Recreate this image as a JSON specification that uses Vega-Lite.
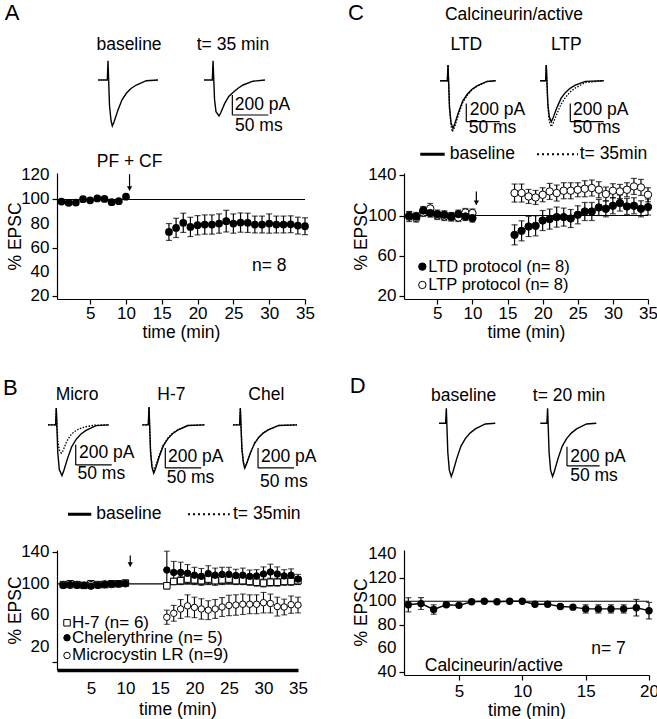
{
"$schema": "https://vega.github.io/schema/vega-lite/v6.json",
"background": "white",
"padding": {"left": 2, "top": 0, "right": 10, "bottom": 0},
"config": {
 "font": "Liberation Sans",
 "view": {"stroke": null},
 "axis": {"domainColor": "black", "tickColor": "black", "labelColor": "black", "titleColor": "black", "labelFontSize": 17, "titleFontSize": 17.5, "titleFontWeight": "normal", "domainWidth": 1.2, "tickWidth": 1.2, "grid": false, "labelFont": "Liberation Sans", "titleFont": "Liberation Sans", "labelOverlap": false, "labelFlush": false},
 "text": {"font": "Liberation Sans", "color": "black"}
},
"columns": 2,
"align": "each",
"bounds": "flush",
"spacing": {"row": 0, "column": 99},
"datasets": {
 "traces": [
  {"p":"A","id":"A1","cond":"baseline","k":0,"x":56.9,"y":0},{"p":"A","id":"A1","cond":"baseline","k":1,"x":69.9,"y":0},{"p":"A","id":"A1","cond":"baseline","k":2,"x":70.8,"y":193},{"p":"A","id":"A1","cond":"baseline","k":3,"x":72.9,"y":-253},{"p":"A","id":"A1","cond":"baseline","k":4,"x":75,"y":-405},{"p":"A","id":"A1","cond":"baseline","k":5,"x":76.8,"y":-460},{"p":"A","id":"A1","cond":"baseline","k":6,"x":79.2,"y":-419},{"p":"A","id":"A1","cond":"baseline","k":7,"x":84.7,"y":-299},{"p":"A","id":"A1","cond":"baseline","k":8,"x":90.3,"y":-198},{"p":"A","id":"A1","cond":"baseline","k":9,"x":96.3,"y":-133},{"p":"A","id":"A1","cond":"baseline","k":10,"x":102.8,"y":-85},{"p":"A","id":"A1","cond":"baseline","k":11,"x":110.1,"y":-50},{"p":"A","id":"A1","cond":"baseline","k":12,"x":124,"y":-7},{"p":"A","id":"A1","cond":"baseline","k":13,"x":140.3,"y":0},
  {"p":"A","id":"A2","cond":"late","k":0,"x":204.2,"y":0},{"p":"A","id":"A2","cond":"late","k":1,"x":215.7,"y":0},{"p":"A","id":"A2","cond":"late","k":2,"x":216.7,"y":193},{"p":"A","id":"A2","cond":"late","k":3,"x":218.8,"y":-198},{"p":"A","id":"A2","cond":"late","k":4,"x":220.8,"y":-317},{"p":"A","id":"A2","cond":"late","k":5,"x":225,"y":-360},{"p":"A","id":"A2","cond":"late","k":6,"x":227.4,"y":-328},{"p":"A","id":"A2","cond":"late","k":7,"x":232.9,"y":-234},{"p":"A","id":"A2","cond":"late","k":8,"x":238.5,"y":-165},{"p":"A","id":"A2","cond":"late","k":9,"x":244.4,"y":-125},{"p":"A","id":"A2","cond":"late","k":10,"x":251,"y":-85},{"p":"A","id":"A2","cond":"late","k":11,"x":258.3,"y":-50},{"p":"A","id":"A2","cond":"late","k":12,"x":272.2,"y":-12},{"p":"A","id":"A2","cond":"late","k":13,"x":288.9,"y":0},
  {"p":"B","id":"B1","cond":"baseline","k":0,"x":-12.5,"y":0},{"p":"B","id":"B1","cond":"baseline","k":1,"x":-1.9,"y":0},{"p":"B","id":"B1","cond":"baseline","k":2,"x":-1,"y":167},{"p":"B","id":"B1","cond":"baseline","k":3,"x":1.1,"y":-279},{"p":"B","id":"B1","cond":"baseline","k":4,"x":3.2,"y":-446},{"p":"B","id":"B1","cond":"baseline","k":5,"x":6.9,"y":-507},{"p":"B","id":"B1","cond":"baseline","k":6,"x":9.3,"y":-461},{"p":"B","id":"B1","cond":"baseline","k":7,"x":14.9,"y":-330},{"p":"B","id":"B1","cond":"baseline","k":8,"x":20.4,"y":-218},{"p":"B","id":"B1","cond":"baseline","k":9,"x":26.4,"y":-147},{"p":"B","id":"B1","cond":"baseline","k":10,"x":32.9,"y":-94},{"p":"B","id":"B1","cond":"baseline","k":11,"x":40.3,"y":-55},{"p":"B","id":"B1","cond":"baseline","k":12,"x":54.2,"y":-8},{"p":"B","id":"B1","cond":"baseline","k":13,"x":72.2,"y":0},
  {"p":"B","id":"B2","cond":"late","k":0,"x":-12.5,"y":0},{"p":"B","id":"B2","cond":"late","k":1,"x":-1.9,"y":0},{"p":"B","id":"B2","cond":"late","k":2,"x":-1,"y":167},{"p":"B","id":"B2","cond":"late","k":3,"x":1.1,"y":-160},{"p":"B","id":"B2","cond":"late","k":4,"x":3.2,"y":-250},{"p":"B","id":"B2","cond":"late","k":5,"x":6,"y":-283},{"p":"B","id":"B2","cond":"late","k":6,"x":8.3,"y":-260},{"p":"B","id":"B2","cond":"late","k":7,"x":13.2,"y":-170},{"p":"B","id":"B2","cond":"late","k":8,"x":18.1,"y":-110},{"p":"B","id":"B2","cond":"late","k":9,"x":23.6,"y":-70},{"p":"B","id":"B2","cond":"late","k":10,"x":30.6,"y":-40},{"p":"B","id":"B2","cond":"late","k":11,"x":38.9,"y":-20},{"p":"B","id":"B2","cond":"late","k":12,"x":52.8,"y":-3},{"p":"B","id":"B2","cond":"late","k":13,"x":72.2,"y":0},
  {"p":"B","id":"B3","cond":"baseline","k":0,"x":118.5,"y":0},{"p":"B","id":"B3","cond":"baseline","k":1,"x":126.8,"y":0},{"p":"B","id":"B3","cond":"baseline","k":2,"x":127.8,"y":177},{"p":"B","id":"B3","cond":"baseline","k":3,"x":129.9,"y":-266},{"p":"B","id":"B3","cond":"baseline","k":4,"x":131.9,"y":-425},{"p":"B","id":"B3","cond":"baseline","k":5,"x":134.3,"y":-483},{"p":"B","id":"B3","cond":"baseline","k":6,"x":136.7,"y":-440},{"p":"B","id":"B3","cond":"baseline","k":7,"x":142.2,"y":-314},{"p":"B","id":"B3","cond":"baseline","k":8,"x":147.8,"y":-208},{"p":"B","id":"B3","cond":"baseline","k":9,"x":153.8,"y":-140},{"p":"B","id":"B3","cond":"baseline","k":10,"x":160.3,"y":-89},{"p":"B","id":"B3","cond":"baseline","k":11,"x":167.6,"y":-53},{"p":"B","id":"B3","cond":"baseline","k":12,"x":181.5,"y":-7},{"p":"B","id":"B3","cond":"baseline","k":13,"x":205.1,"y":0},
  {"p":"B","id":"B4","cond":"late","k":0,"x":118.5,"y":0},{"p":"B","id":"B4","cond":"late","k":1,"x":126.8,"y":0},{"p":"B","id":"B4","cond":"late","k":2,"x":127.8,"y":177},{"p":"B","id":"B4","cond":"late","k":3,"x":129.9,"y":-253},{"p":"B","id":"B4","cond":"late","k":4,"x":131.9,"y":-404},{"p":"B","id":"B4","cond":"late","k":5,"x":134.3,"y":-459},{"p":"B","id":"B4","cond":"late","k":6,"x":136.7,"y":-418},{"p":"B","id":"B4","cond":"late","k":7,"x":142.2,"y":-298},{"p":"B","id":"B4","cond":"late","k":8,"x":147.8,"y":-198},{"p":"B","id":"B4","cond":"late","k":9,"x":153.8,"y":-133},{"p":"B","id":"B4","cond":"late","k":10,"x":160.3,"y":-85},{"p":"B","id":"B4","cond":"late","k":11,"x":167.6,"y":-50},{"p":"B","id":"B4","cond":"late","k":12,"x":181.5,"y":-7},{"p":"B","id":"B4","cond":"late","k":13,"x":205.1,"y":0},
  {"p":"B","id":"B5","cond":"baseline","k":0,"x":244.4,"y":0},{"p":"B","id":"B5","cond":"baseline","k":1,"x":253.6,"y":0},{"p":"B","id":"B5","cond":"baseline","k":2,"x":254.6,"y":167},{"p":"B","id":"B5","cond":"baseline","k":3,"x":256.7,"y":-238},{"p":"B","id":"B5","cond":"baseline","k":4,"x":258.8,"y":-381},{"p":"B","id":"B5","cond":"baseline","k":5,"x":260.7,"y":-433},{"p":"B","id":"B5","cond":"baseline","k":6,"x":263.1,"y":-394},{"p":"B","id":"B5","cond":"baseline","k":7,"x":268.6,"y":-281},{"p":"B","id":"B5","cond":"baseline","k":8,"x":274.2,"y":-186},{"p":"B","id":"B5","cond":"baseline","k":9,"x":280.1,"y":-126},{"p":"B","id":"B5","cond":"baseline","k":10,"x":286.7,"y":-80},{"p":"B","id":"B5","cond":"baseline","k":11,"x":294,"y":-47},{"p":"B","id":"B5","cond":"baseline","k":12,"x":307.9,"y":-6},{"p":"B","id":"B5","cond":"baseline","k":13,"x":333.3,"y":0},
  {"p":"B","id":"B6","cond":"late","k":0,"x":244.4,"y":0},{"p":"B","id":"B6","cond":"late","k":1,"x":253.6,"y":0},{"p":"B","id":"B6","cond":"late","k":2,"x":254.6,"y":167},{"p":"B","id":"B6","cond":"late","k":3,"x":256.9,"y":-231},{"p":"B","id":"B6","cond":"late","k":4,"x":259,"y":-370},{"p":"B","id":"B6","cond":"late","k":5,"x":261,"y":-420},{"p":"B","id":"B6","cond":"late","k":6,"x":263.5,"y":-382},{"p":"B","id":"B6","cond":"late","k":7,"x":269,"y":-273},{"p":"B","id":"B6","cond":"late","k":8,"x":274.6,"y":-180},{"p":"B","id":"B6","cond":"late","k":9,"x":280.5,"y":-122},{"p":"B","id":"B6","cond":"late","k":10,"x":287,"y":-78},{"p":"B","id":"B6","cond":"late","k":11,"x":294.4,"y":-46},{"p":"B","id":"B6","cond":"late","k":12,"x":308.3,"y":-6},{"p":"B","id":"B6","cond":"late","k":13,"x":333.3,"y":0},
  {"p":"C","id":"C1","cond":"baseline","k":0,"x":54.4,"y":0},{"p":"C","id":"C1","cond":"baseline","k":1,"x":64.9,"y":0},{"p":"C","id":"C1","cond":"baseline","k":2,"x":66,"y":173},{"p":"C","id":"C1","cond":"baseline","k":3,"x":68.2,"y":-288},{"p":"C","id":"C1","cond":"baseline","k":4,"x":70.5,"y":-461},{"p":"C","id":"C1","cond":"baseline","k":5,"x":73.5,"y":-524},{"p":"C","id":"C1","cond":"baseline","k":6,"x":76,"y":-476},{"p":"C","id":"C1","cond":"baseline","k":7,"x":82,"y":-340},{"p":"C","id":"C1","cond":"baseline","k":8,"x":88,"y":-225},{"p":"C","id":"C1","cond":"baseline","k":9,"x":94.5,"y":-152},{"p":"C","id":"C1","cond":"baseline","k":10,"x":101.5,"y":-97},{"p":"C","id":"C1","cond":"baseline","k":11,"x":109.4,"y":-57},{"p":"C","id":"C1","cond":"baseline","k":12,"x":124.4,"y":-8},{"p":"C","id":"C1","cond":"baseline","k":13,"x":137.5,"y":0},
  {"p":"C","id":"C2","cond":"late","k":0,"x":54.4,"y":0},{"p":"C","id":"C2","cond":"late","k":1,"x":64.9,"y":0},{"p":"C","id":"C2","cond":"late","k":2,"x":66,"y":173},{"p":"C","id":"C2","cond":"late","k":3,"x":68.2,"y":-308},{"p":"C","id":"C2","cond":"late","k":4,"x":70.5,"y":-494},{"p":"C","id":"C2","cond":"late","k":5,"x":72.4,"y":-561},{"p":"C","id":"C2","cond":"late","k":6,"x":76,"y":-510},{"p":"C","id":"C2","cond":"late","k":7,"x":82,"y":-364},{"p":"C","id":"C2","cond":"late","k":8,"x":88,"y":-241},{"p":"C","id":"C2","cond":"late","k":9,"x":94.5,"y":-163},{"p":"C","id":"C2","cond":"late","k":10,"x":101.5,"y":-104},{"p":"C","id":"C2","cond":"late","k":11,"x":109.4,"y":-61},{"p":"C","id":"C2","cond":"late","k":12,"x":124.4,"y":-9},{"p":"C","id":"C2","cond":"late","k":13,"x":137.5,"y":0},
  {"p":"C","id":"C3","cond":"baseline","k":0,"x":204.3,"y":0},{"p":"C","id":"C3","cond":"baseline","k":1,"x":212.3,"y":0},{"p":"C","id":"C3","cond":"baseline","k":2,"x":213.3,"y":173},{"p":"C","id":"C3","cond":"baseline","k":3,"x":215.6,"y":-248},{"p":"C","id":"C3","cond":"baseline","k":4,"x":217.8,"y":-397},{"p":"C","id":"C3","cond":"baseline","k":5,"x":220.8,"y":-451},{"p":"C","id":"C3","cond":"baseline","k":6,"x":223.4,"y":-410},{"p":"C","id":"C3","cond":"baseline","k":7,"x":229.4,"y":-293},{"p":"C","id":"C3","cond":"baseline","k":8,"x":235.4,"y":-194},{"p":"C","id":"C3","cond":"baseline","k":9,"x":241.8,"y":-131},{"p":"C","id":"C3","cond":"baseline","k":10,"x":248.9,"y":-83},{"p":"C","id":"C3","cond":"baseline","k":11,"x":256.8,"y":-49},{"p":"C","id":"C3","cond":"baseline","k":12,"x":271.8,"y":-7},{"p":"C","id":"C3","cond":"baseline","k":13,"x":299.4,"y":0},
  {"p":"C","id":"C4","cond":"late","k":0,"x":204.3,"y":0},{"p":"C","id":"C4","cond":"late","k":1,"x":212.3,"y":0},{"p":"C","id":"C4","cond":"late","k":2,"x":213.3,"y":173},{"p":"C","id":"C4","cond":"late","k":3,"x":215.6,"y":-278},{"p":"C","id":"C4","cond":"late","k":4,"x":217.8,"y":-445},{"p":"C","id":"C4","cond":"late","k":5,"x":220.8,"y":-506},{"p":"C","id":"C4","cond":"late","k":6,"x":223.4,"y":-470},{"p":"C","id":"C4","cond":"late","k":7,"x":229.4,"y":-360},{"p":"C","id":"C4","cond":"late","k":8,"x":235.4,"y":-260},{"p":"C","id":"C4","cond":"late","k":9,"x":241.8,"y":-185},{"p":"C","id":"C4","cond":"late","k":10,"x":248.9,"y":-125},{"p":"C","id":"C4","cond":"late","k":11,"x":256.8,"y":-80},{"p":"C","id":"C4","cond":"late","k":12,"x":271.8,"y":-20},{"p":"C","id":"C4","cond":"late","k":13,"x":299.4,"y":0},
  {"p":"D","id":"D1","cond":"baseline","k":0,"x":53.6,"y":0},{"p":"D","id":"D1","cond":"baseline","k":1,"x":63.7,"y":0},{"p":"D","id":"D1","cond":"baseline","k":2,"x":64.8,"y":156},{"p":"D","id":"D1","cond":"baseline","k":3,"x":67.1,"y":-306},{"p":"D","id":"D1","cond":"baseline","k":4,"x":69.4,"y":-489},{"p":"D","id":"D1","cond":"baseline","k":5,"x":72.4,"y":-555},{"p":"D","id":"D1","cond":"baseline","k":6,"x":75,"y":-505},{"p":"D","id":"D1","cond":"baseline","k":7,"x":81.1,"y":-361},{"p":"D","id":"D1","cond":"baseline","k":8,"x":87.3,"y":-239},{"p":"D","id":"D1","cond":"baseline","k":9,"x":93.9,"y":-161},{"p":"D","id":"D1","cond":"baseline","k":10,"x":101.1,"y":-103},{"p":"D","id":"D1","cond":"baseline","k":11,"x":109.2,"y":-60},{"p":"D","id":"D1","cond":"baseline","k":12,"x":124.5,"y":-8},{"p":"D","id":"D1","cond":"baseline","k":13,"x":139.8,"y":0},
  {"p":"D","id":"D2","cond":"late","k":0,"x":208.7,"y":0},{"p":"D","id":"D2","cond":"late","k":1,"x":218.8,"y":0},{"p":"D","id":"D2","cond":"late","k":2,"x":219.9,"y":156},{"p":"D","id":"D2","cond":"late","k":3,"x":222.2,"y":-306},{"p":"D","id":"D2","cond":"late","k":4,"x":224.5,"y":-489},{"p":"D","id":"D2","cond":"late","k":5,"x":227.5,"y":-555},{"p":"D","id":"D2","cond":"late","k":6,"x":230.1,"y":-505},{"p":"D","id":"D2","cond":"late","k":7,"x":236.2,"y":-361},{"p":"D","id":"D2","cond":"late","k":8,"x":242.4,"y":-239},{"p":"D","id":"D2","cond":"late","k":9,"x":249,"y":-161},{"p":"D","id":"D2","cond":"late","k":10,"x":256.2,"y":-103},{"p":"D","id":"D2","cond":"late","k":11,"x":264.3,"y":-60},{"p":"D","id":"D2","cond":"late","k":12,"x":279.6,"y":-8},{"p":"D","id":"D2","cond":"late","k":13,"x":294.5,"y":0}
 ],
 "bars": [
  {"p":"A","x":243.5,"y":-150,"x2":243.5,"y2":-350},{"p":"A","x":243.5,"y":-350,"x2":293.5,"y2":-350},
  {"p":"B","x":26,"y":-200,"x2":26,"y2":-400},{"p":"B","x":26,"y":-400,"x2":76,"y2":-400},
  {"p":"B","x":150.4,"y":-230,"x2":150.4,"y2":-430},{"p":"B","x":150.4,"y":-430,"x2":200.4,"y2":-430},
  {"p":"B","x":279.2,"y":-230,"x2":279.2,"y2":-430},{"p":"B","x":279.2,"y":-430,"x2":329.2,"y2":-430},
  {"p":"C","x":93.4,"y":-250,"x2":93.4,"y2":-450},{"p":"C","x":93.4,"y":-450,"x2":143.4,"y2":-450},
  {"p":"C","x":249.3,"y":-250,"x2":249.3,"y2":-450},{"p":"C","x":249.3,"y":-450,"x2":299.3,"y2":-450},
  {"p":"D","x":249.6,"y":-245,"x2":249.6,"y2":-445},{"p":"D","x":249.6,"y":-445,"x2":299.6,"y2":-445}
 ],
 "labels": [
  {"p":"A","kind":"letter","label":"A","x":-72.6,"y":667},
  {"p":"A","kind":"head","label":"baseline","x":100,"y":350},
  {"p":"A","kind":"head","label":"t= 35 min","x":244.4,"y":350},
  {"p":"A","kind":"bar","label":"200 pA","x":246.8,"y":-250},
  {"p":"A","kind":"head","label":"50 ms","x":280.3,"y":-460},
  {"p":"B","kind":"letter","label":"B","x":-75,"y":367},
  {"p":"B","kind":"head","label":"Micro","x":27.8,"y":300},
  {"p":"B","kind":"head","label":"H-7","x":158.8,"y":300},
  {"p":"B","kind":"head","label":"Chel","x":290.7,"y":300},
  {"p":"B","kind":"bar","label":"200 pA","x":30.6,"y":-283},
  {"p":"B","kind":"bar","label":"200 pA","x":154.2,"y":-317},
  {"p":"B","kind":"bar","label":"200 pA","x":283.3,"y":-317},
  {"p":"B","kind":"head","label":"50 ms","x":61.6,"y":-490},
  {"p":"B","kind":"head","label":"50 ms","x":185.4,"y":-530},
  {"p":"B","kind":"head","label":"50 ms","x":315,"y":-567},
  {"p":"B","kind":"bar","label":"baseline","x":54.6,"y":-893},
  {"p":"B","kind":"bar","label":"t= 35min","x":244.4,"y":-893},
  {"p":"C","kind":"letter","label":"C","x":-84,"y":741},
  {"p":"C","kind":"head","label":"Calcineurin/active","x":164.9,"y":723},
  {"p":"C","kind":"head","label":"LTD","x":93.4,"y":393},
  {"p":"C","kind":"head","label":"LTP","x":243.3,"y":393},
  {"p":"C","kind":"bar","label":"200 pA","x":98.5,"y":-322},
  {"p":"C","kind":"bar","label":"200 pA","x":253.4,"y":-322},
  {"p":"C","kind":"head","label":"50 ms","x":132.7,"y":-517},
  {"p":"C","kind":"head","label":"50 ms","x":288.6,"y":-517},
  {"p":"C","kind":"bar","label":"baseline","x":68.5,"y":-810},
  {"p":"C","kind":"bar","label":"t= 35min","x":263.4,"y":-810},
  {"p":"D","kind":"letter","label":"D","x":-83.2,"y":388},
  {"p":"D","kind":"head","label":"baseline","x":91.4,"y":284},
  {"p":"D","kind":"head","label":"t= 20 min","x":252.7,"y":284},
  {"p":"D","kind":"bar","label":"200 pA","x":254.7,"y":-347},
  {"p":"D","kind":"head","label":"50 ms","x":291,"y":-548}
 ],
 "legline": [
  {"p":"B","cond":"baseline","x":15.3,"x2":47.6,"y":-893},
  {"p":"B","cond":"late","x":181.9,"x2":239.9,"y":-893},
  {"p":"C","cond":"baseline","x":24.4,"x2":61,"y":-810},
  {"p":"C","cond":"late","x":199.4,"x2":260.9,"y":-810}
 ],
 "yticks": [
  {"p":"A","v":20},{"p":"A","v":40},{"p":"A","v":60},{"p":"A","v":80},{"p":"A","v":100},{"p":"A","v":120},
  {"p":"B","v":20},{"p":"B","v":60},{"p":"B","v":100},{"p":"B","v":140},
  {"p":"C","v":20},{"p":"C","v":60},{"p":"C","v":100},{"p":"C","v":140},
  {"p":"D","v":40},{"p":"D","v":60},{"p":"D","v":80},{"p":"D","v":100},{"p":"D","v":120},{"p":"D","v":140}
 ],
 "ts": [
  {"p":"A","g":"A","t":1,"m":98.3,"e":1.5},{"p":"A","g":"A","t":2,"m":97.2,"e":1.5},{"p":"A","g":"A","t":3,"m":97.4,"e":1.5},{"p":"A","g":"A","t":4,"m":100.2,"e":1.5},{"p":"A","g":"A","t":5,"m":99.3,"e":1.5},{"p":"A","g":"A","t":6,"m":100.9,"e":1.5},{"p":"A","g":"A","t":7,"m":100.4,"e":1.5},{"p":"A","g":"A","t":8,"m":97.7,"e":1.5},{"p":"A","g":"A","t":9,"m":98.6,"e":1.5},{"p":"A","g":"A","t":10,"m":102.3,"e":1.5},
  {"p":"A","g":"A","t":16,"m":73.0,"e":7},{"p":"A","g":"A","t":17,"m":76.4,"e":8},{"p":"A","g":"A","t":18,"m":80.6,"e":8},{"p":"A","g":"A","t":19,"m":77.2,"e":8},{"p":"A","g":"A","t":20,"m":78.6,"e":8},{"p":"A","g":"A","t":21,"m":79.2,"e":8},{"p":"A","g":"A","t":22,"m":79.2,"e":8},{"p":"A","g":"A","t":23,"m":80,"e":8},{"p":"A","g":"A","t":24,"m":82,"e":9},{"p":"A","g":"A","t":25,"m":80,"e":8},{"p":"A","g":"A","t":26,"m":80.8,"e":8},{"p":"A","g":"A","t":27,"m":80.6,"e":8},{"p":"A","g":"A","t":28,"m":79.2,"e":7},{"p":"A","g":"A","t":29,"m":79.2,"e":7},{"p":"A","g":"A","t":30,"m":80,"e":8},{"p":"A","g":"A","t":31,"m":79.2,"e":7},{"p":"A","g":"A","t":32,"m":79.2,"e":7},{"p":"A","g":"A","t":33,"m":79.4,"e":7},{"p":"A","g":"A","t":34,"m":78.3,"e":7},{"p":"A","g":"A","t":35,"m":77.8,"e":7},
  {"p":"B","g":"H7","t":1,"m":99,"e":3},{"p":"B","g":"H7","t":2,"m":100,"e":3},{"p":"B","g":"H7","t":3,"m":99,"e":3},{"p":"B","g":"H7","t":4,"m":98,"e":3},{"p":"B","g":"H7","t":5,"m":100,"e":3},{"p":"B","g":"H7","t":6,"m":99,"e":3},{"p":"B","g":"H7","t":7,"m":99,"e":3},{"p":"B","g":"H7","t":8,"m":100,"e":3},{"p":"B","g":"H7","t":9,"m":100,"e":3},{"p":"B","g":"H7","t":10,"m":101,"e":3},
  {"p":"B","g":"H7","t":16,"m":97.5,"e":3},{"p":"B","g":"H7","t":17,"m":103,"e":4},{"p":"B","g":"H7","t":18,"m":104,"e":5},{"p":"B","g":"H7","t":19,"m":106,"e":6},{"p":"B","g":"H7","t":20,"m":105,"e":6},{"p":"B","g":"H7","t":21,"m":104,"e":6},{"p":"B","g":"H7","t":22,"m":106,"e":7},{"p":"B","g":"H7","t":23,"m":104,"e":6},{"p":"B","g":"H7","t":24,"m":105,"e":6},{"p":"B","g":"H7","t":25,"m":106,"e":6},{"p":"B","g":"H7","t":26,"m":104,"e":5},{"p":"B","g":"H7","t":27,"m":104,"e":5},{"p":"B","g":"H7","t":28,"m":103,"e":5},{"p":"B","g":"H7","t":29,"m":102,"e":5},{"p":"B","g":"H7","t":30,"m":101,"e":5},{"p":"B","g":"H7","t":31,"m":102,"e":5},{"p":"B","g":"H7","t":32,"m":102,"e":5},{"p":"B","g":"H7","t":33,"m":103,"e":5},{"p":"B","g":"H7","t":34,"m":103,"e":5},{"p":"B","g":"H7","t":35,"m":104,"e":5},
  {"p":"B","g":"Micro","t":1,"m":99,"e":3},{"p":"B","g":"Micro","t":2,"m":98,"e":3},{"p":"B","g":"Micro","t":3,"m":99,"e":3},{"p":"B","g":"Micro","t":4,"m":98,"e":3},{"p":"B","g":"Micro","t":5,"m":99,"e":3},{"p":"B","g":"Micro","t":6,"m":99,"e":3},{"p":"B","g":"Micro","t":7,"m":100,"e":3},{"p":"B","g":"Micro","t":8,"m":99,"e":3},{"p":"B","g":"Micro","t":9,"m":100,"e":3},{"p":"B","g":"Micro","t":10,"m":100,"e":3},
  {"p":"B","g":"Micro","t":16,"m":57.5,"e":9},{"p":"B","g":"Micro","t":17,"m":62.5,"e":10},{"p":"B","g":"Micro","t":18,"m":68,"e":12},{"p":"B","g":"Micro","t":19,"m":72,"e":14},{"p":"B","g":"Micro","t":20,"m":70,"e":13},{"p":"B","g":"Micro","t":21,"m":68,"e":13},{"p":"B","g":"Micro","t":22,"m":66.5,"e":12},{"p":"B","g":"Micro","t":23,"m":68,"e":12},{"p":"B","g":"Micro","t":24,"m":70.5,"e":12},{"p":"B","g":"Micro","t":25,"m":72.5,"e":13},{"p":"B","g":"Micro","t":26,"m":73,"e":13},{"p":"B","g":"Micro","t":27,"m":74,"e":13},{"p":"B","g":"Micro","t":28,"m":74,"e":12},{"p":"B","g":"Micro","t":29,"m":74,"e":12},{"p":"B","g":"Micro","t":30,"m":76,"e":13},{"p":"B","g":"Micro","t":31,"m":75,"e":12},{"p":"B","g":"Micro","t":32,"m":71,"e":12},{"p":"B","g":"Micro","t":33,"m":70.5,"e":10},{"p":"B","g":"Micro","t":34,"m":73.5,"e":11},{"p":"B","g":"Micro","t":35,"m":73,"e":10},
  {"p":"B","g":"Chel","t":1,"m":98,"e":3},{"p":"B","g":"Chel","t":2,"m":99,"e":3},{"p":"B","g":"Chel","t":3,"m":98,"e":3},{"p":"B","g":"Chel","t":4,"m":98,"e":3},{"p":"B","g":"Chel","t":5,"m":97,"e":3},{"p":"B","g":"Chel","t":6,"m":98,"e":3},{"p":"B","g":"Chel","t":7,"m":99,"e":3},{"p":"B","g":"Chel","t":8,"m":100,"e":3},{"p":"B","g":"Chel","t":9,"m":100,"e":3},{"p":"B","g":"Chel","t":10,"m":100.5,"e":3},
  {"p":"B","g":"Chel","t":16,"m":117.5,"e":24},{"p":"B","g":"Chel","t":17,"m":114.5,"e":14},{"p":"B","g":"Chel","t":18,"m":114.5,"e":13},{"p":"B","g":"Chel","t":19,"m":113.5,"e":11},{"p":"B","g":"Chel","t":20,"m":111,"e":10},{"p":"B","g":"Chel","t":21,"m":109.5,"e":10},{"p":"B","g":"Chel","t":22,"m":113,"e":10},{"p":"B","g":"Chel","t":23,"m":111,"e":9},{"p":"B","g":"Chel","t":24,"m":112,"e":9},{"p":"B","g":"Chel","t":25,"m":112,"e":9},{"p":"B","g":"Chel","t":26,"m":110.5,"e":8},{"p":"B","g":"Chel","t":27,"m":111,"e":9},{"p":"B","g":"Chel","t":28,"m":109.5,"e":8},{"p":"B","g":"Chel","t":29,"m":110,"e":8},{"p":"B","g":"Chel","t":30,"m":112.5,"e":9},{"p":"B","g":"Chel","t":31,"m":115,"e":10},{"p":"B","g":"Chel","t":32,"m":112.5,"e":9},{"p":"B","g":"Chel","t":33,"m":110,"e":8},{"p":"B","g":"Chel","t":34,"m":111,"e":8},{"p":"B","g":"Chel","t":35,"m":106,"e":6},
  {"p":"C","g":"LTP","t":1,"m":99,"e":5},{"p":"C","g":"LTP","t":2,"m":97.5,"e":4},{"p":"C","g":"LTP","t":3,"m":103,"e":4},{"p":"C","g":"LTP","t":4,"m":107,"e":5},{"p":"C","g":"LTP","t":5,"m":100,"e":4},{"p":"C","g":"LTP","t":6,"m":99,"e":4},{"p":"C","g":"LTP","t":7,"m":98.5,"e":4},{"p":"C","g":"LTP","t":8,"m":98,"e":4},{"p":"C","g":"LTP","t":9,"m":103,"e":4},{"p":"C","g":"LTP","t":10,"m":102.5,"e":4},
  {"p":"C","g":"LTP","t":16,"m":122.4,"e":9},{"p":"C","g":"LTP","t":17,"m":122.4,"e":9},{"p":"C","g":"LTP","t":18,"m":119,"e":7},{"p":"C","g":"LTP","t":19,"m":118,"e":7},{"p":"C","g":"LTP","t":20,"m":120.7,"e":7},{"p":"C","g":"LTP","t":21,"m":124,"e":8},{"p":"C","g":"LTP","t":22,"m":122.4,"e":8},{"p":"C","g":"LTP","t":23,"m":124.7,"e":8},{"p":"C","g":"LTP","t":24,"m":124.7,"e":8},{"p":"C","g":"LTP","t":25,"m":125.7,"e":7},{"p":"C","g":"LTP","t":26,"m":126.7,"e":8},{"p":"C","g":"LTP","t":27,"m":127.4,"e":8},{"p":"C","g":"LTP","t":28,"m":125.7,"e":8},{"p":"C","g":"LTP","t":29,"m":121.4,"e":7},{"p":"C","g":"LTP","t":30,"m":124.7,"e":7},{"p":"C","g":"LTP","t":31,"m":124,"e":7},{"p":"C","g":"LTP","t":32,"m":125.7,"e":7},{"p":"C","g":"LTP","t":33,"m":129,"e":8},{"p":"C","g":"LTP","t":34,"m":128,"e":8},{"p":"C","g":"LTP","t":35,"m":120.7,"e":7},
  {"p":"C","g":"LTD","t":1,"m":99.7,"e":4},{"p":"C","g":"LTD","t":2,"m":99,"e":4},{"p":"C","g":"LTD","t":3,"m":105,"e":4},{"p":"C","g":"LTD","t":4,"m":102.4,"e":4},{"p":"C","g":"LTD","t":5,"m":101.4,"e":4},{"p":"C","g":"LTD","t":6,"m":100.7,"e":4},{"p":"C","g":"LTD","t":7,"m":99,"e":4},{"p":"C","g":"LTD","t":8,"m":101.4,"e":4},{"p":"C","g":"LTD","t":9,"m":99,"e":4},{"p":"C","g":"LTD","t":10,"m":97.4,"e":4},
  {"p":"C","g":"LTD","t":16,"m":80.7,"e":10},{"p":"C","g":"LTD","t":17,"m":84.7,"e":10},{"p":"C","g":"LTD","t":18,"m":89,"e":10},{"p":"C","g":"LTD","t":19,"m":89.7,"e":10},{"p":"C","g":"LTD","t":20,"m":95,"e":10},{"p":"C","g":"LTD","t":21,"m":96.4,"e":10},{"p":"C","g":"LTD","t":22,"m":98.4,"e":10},{"p":"C","g":"LTD","t":23,"m":98.4,"e":9},{"p":"C","g":"LTD","t":24,"m":97,"e":9},{"p":"C","g":"LTD","t":25,"m":100.7,"e":9},{"p":"C","g":"LTD","t":26,"m":104,"e":9},{"p":"C","g":"LTD","t":27,"m":104,"e":9},{"p":"C","g":"LTD","t":28,"m":108,"e":8},{"p":"C","g":"LTD","t":29,"m":106.7,"e":8},{"p":"C","g":"LTD","t":30,"m":109.7,"e":8},{"p":"C","g":"LTD","t":31,"m":112.4,"e":8},{"p":"C","g":"LTD","t":32,"m":109,"e":8},{"p":"C","g":"LTD","t":33,"m":109.7,"e":8},{"p":"C","g":"LTD","t":34,"m":106.7,"e":8},{"p":"C","g":"LTD","t":35,"m":108.4,"e":8},
  {"p":"D","g":"D","t":1,"m":97,"e":6},{"p":"D","g":"D","t":2,"m":98,"e":5},{"p":"D","g":"D","t":3,"m":93,"e":4},{"p":"D","g":"D","t":4,"m":97,"e":1.5},{"p":"D","g":"D","t":5,"m":96.5,"e":1.5},{"p":"D","g":"D","t":6,"m":99.5,"e":1.5},{"p":"D","g":"D","t":7,"m":100,"e":1},{"p":"D","g":"D","t":8,"m":99.5,"e":1},{"p":"D","g":"D","t":9,"m":100,"e":1},{"p":"D","g":"D","t":10,"m":100,"e":1},{"p":"D","g":"D","t":11,"m":97.5,"e":1.5},{"p":"D","g":"D","t":12,"m":97.5,"e":1.5},{"p":"D","g":"D","t":13,"m":95.5,"e":1.5},{"p":"D","g":"D","t":14,"m":95,"e":1.5},{"p":"D","g":"D","t":15,"m":93.5,"e":3.5},{"p":"D","g":"D","t":16,"m":93.5,"e":3.5},{"p":"D","g":"D","t":17,"m":93.5,"e":3.5},{"p":"D","g":"D","t":18,"m":93.5,"e":3.5},{"p":"D","g":"D","t":19,"m":94.5,"e":7},{"p":"D","g":"D","t":20,"m":92,"e":7}
 ],
 "leg": [
  {"p":"B","g":"H7","label":"H-7 (n= 6)","t":1.54,"m":50.4},
  {"p":"B","g":"Chel","label":"Chelerythrine (n= 5)","t":1.54,"m":31.4},
  {"p":"B","g":"Micro","label":"Microcystin LR (n=9)","t":1.54,"m":8.9},
  {"p":"C","g":"LTD","label":"LTD protocol (n= 8)","t":2.87,"m":49},
  {"p":"C","g":"LTP","label":"LTP protocol (n= 8)","t":2.87,"m":30.7}
 ],
 "notes": [
  {"p":"A","label":"PF + CF","t":10.5,"m":131.4},
  {"p":"A","label":"n= 8","t":30,"m":44.4},
  {"p":"D","label":"n= 7","t":16.8,"m":59.5},
  {"p":"D","label":"Calcineurin/active","t":7.75,"m":45.4}
 ],
 "arrows": [
  {"p":"A","t":10.5,"y1":121,"y2":107.5},
  {"p":"B","t":10.7,"y1":136,"y2":122},
  {"p":"C","t":10.56,"y1":124,"y2":110.7}
 ]
},
"concat": [
 {
  "width": 248, "height": 173,
  "encoding": {
   "x": {"field":"x","type":"quantitative","scale":{"domain":[0,344.4],"nice":false,"zero":false},"axis":null},
   "y": {"field":"y","type":"quantitative","scale":{"domain":[-930,800],"nice":false,"zero":false},"axis":null}
  },
  "layer": [
   {"data":{"name":"traces"},"transform":[{"filter":"datum.p==='A'"}],"mark":{"type":"line","color":"black","strokeWidth":1.4},"encoding":{"detail":{"field":"id","type":"nominal"},"order":{"field":"k","type":"quantitative"}}},
   {"data":{"name":"bars"},"transform":[{"filter":"datum.p==='A'"}],"mark":{"type":"rule","color":"black","strokeWidth":1.2},"encoding":{"x2":{"field":"x2"},"y2":{"field":"y2"}}},
   {"data":{"name":"labels"},"transform":[{"filter":"datum.p==='A' && datum.kind==='head'"}],"mark":{"type":"text","fontSize":17.5,"align":"center","baseline":"middle"},"encoding":{"text":{"field":"label"}}},
   {"data":{"name":"labels"},"transform":[{"filter":"datum.p==='A' && datum.kind==='bar'"}],"mark":{"type":"text","fontSize":17.5,"align":"left","baseline":"middle"},"encoding":{"text":{"field":"label"}}},
   {"data":{"name":"labels"},"transform":[{"filter":"datum.p==='A' && datum.kind==='letter'"}],"mark":{"type":"text","fontSize":22,"align":"left","baseline":"middle"},"encoding":{"text":{"field":"label"}}}
  ]
 },
 {
  "width": 244, "height": 173,
  "encoding": {
   "x": {"field":"x","type":"quantitative","scale":{"domain":[0,365.8],"nice":false,"zero":false},"axis":null},
   "y": {"field":"y","type":"quantitative","scale":{"domain":[-1015,888],"nice":false,"zero":false},"axis":null}
  },
  "layer": [
   {"data":{"name":"traces"},"transform":[{"filter":"datum.p==='C' && datum.cond==='baseline'"}],"mark":{"type":"line","color":"black","strokeWidth":1.4},"encoding":{"detail":{"field":"id","type":"nominal"},"order":{"field":"k","type":"quantitative"}}},
   {"data":{"name":"traces"},"transform":[{"filter":"datum.p==='C' && datum.cond==='late'"}],"mark":{"type":"line","color":"black","strokeWidth":1.3,"strokeDash":[1.5,1.5]},"encoding":{"detail":{"field":"id","type":"nominal"},"order":{"field":"k","type":"quantitative"}}},
   {"data":{"name":"bars"},"transform":[{"filter":"datum.p==='C'"}],"mark":{"type":"rule","color":"black","strokeWidth":1.2},"encoding":{"x2":{"field":"x2"},"y2":{"field":"y2"}}},
   {"data":{"name":"legline"},"transform":[{"filter":"datum.p==='C'"}],"mark":{"type":"rule","color":"black"},"encoding":{"x2":{"field":"x2"},"strokeDash":{"field":"cond","type":"nominal","scale":{"domain":["baseline","late"],"range":[[1,0],[2,3]]},"legend":null},"strokeWidth":{"field":"cond","type":"nominal","scale":{"domain":["baseline","late"],"range":[3,2]},"legend":null}}},
   {"data":{"name":"labels"},"transform":[{"filter":"datum.p==='C' && datum.kind==='head'"}],"mark":{"type":"text","fontSize":17.5,"align":"center","baseline":"middle"},"encoding":{"text":{"field":"label"}}},
   {"data":{"name":"labels"},"transform":[{"filter":"datum.p==='C' && datum.kind==='bar'"}],"mark":{"type":"text","fontSize":17.5,"align":"left","baseline":"middle"},"encoding":{"text":{"field":"label"}}},
   {"data":{"name":"labels"},"transform":[{"filter":"datum.p==='C' && datum.kind==='letter'"}],"mark":{"type":"text","fontSize":22,"align":"left","baseline":"middle"},"encoding":{"text":{"field":"label"}}}
  ]
 },
 {
  "width": 248, "height": 126,
  "data": {"name":"ts"},
  "transform": [{"filter":"datum.p==='A'"}],
  "layer": [
   {"data":{"values":[{}]},"mark":{"type":"rule","color":"black","strokeWidth":1.2},"encoding":{"y":{"datum":100,"type":"quantitative","scale":{"domain":[17.3,122],"nice":false,"zero":false},"axis":{"values":[20,40,60,80,100,120],"labels":false,"title":"% EPSC","tickSize":5,"titleX":-37,"titleY":63,"titleAngle":270,"titleAlign":"center","titleBaseline":"alphabetic"}}}},
   {"mark":{"type":"errorbar","ticks":{"size":6},"color":"black","thickness":1.2},"encoding":{
     "x":{"field":"t","type":"quantitative","scale":{"domain":[0.37,35],"nice":false,"zero":false},"axis":{"values":[5,10,15,20,25,30,35],"labelOverlap":false,"title":"time (min)","tickSize":5,"labelPadding":1,"titleY":38,"titleBaseline":"alphabetic"}},
     "y":{"field":"m","type":"quantitative","scale":{"domain":[17.3,122],"nice":false,"zero":false},"axis":{"values":[20,40,60,80,100,120],"labels":false,"title":"% EPSC","tickSize":5,"titleX":-37,"titleY":63,"titleAngle":270,"titleAlign":"center","titleBaseline":"alphabetic"}},"yError":{"field":"e"}}},
   {"mark":{"type":"point","filled":true,"color":"black","size":60,"opacity":1},"encoding":{
     "x":{"field":"t","type":"quantitative","scale":{"domain":[0.37,35],"nice":false,"zero":false},"axis":{"values":[5,10,15,20,25,30,35],"labelOverlap":false,"title":"time (min)","tickSize":5,"labelPadding":1,"titleY":38,"titleBaseline":"alphabetic"}},
     "y":{"field":"m","type":"quantitative","scale":{"domain":[17.3,122],"nice":false,"zero":false},"axis":{"values":[20,40,60,80,100,120],"labels":false,"title":"% EPSC","tickSize":5,"titleX":-37,"titleY":63,"titleAngle":270,"titleAlign":"center","titleBaseline":"alphabetic"}}}},
   {"data":{"name":"yticks"},"transform":[{"filter":"datum.p==='A'"}],"mark":{"type":"text","fontSize":17,"align":"right","baseline":"middle","dx":-7.5},"encoding":{"x":{"datum":0.37,"type":"quantitative"},"y":{"field":"v","type":"quantitative"},"text":{"field":"v","type":"quantitative"}}},
   {"data":{"name":"notes"},"transform":[{"filter":"datum.p==='A'"}],"mark":{"type":"text","fontSize":17.5,"align":"center","baseline":"middle"},"encoding":{"x":{"field":"t","type":"quantitative"},"y":{"field":"m","type":"quantitative"},"text":{"field":"label"}}},
   {"data":{"name":"arrows"},"transform":[{"filter":"datum.p==='A'"}],"mark":{"type":"rule","color":"black","strokeWidth":1.2},"encoding":{"x":{"field":"t","type":"quantitative"},"y":{"field":"y1","type":"quantitative"},"y2":{"field":"y2"}}},
   {"data":{"name":"arrows"},"transform":[{"filter":"datum.p==='A'"}],"mark":{"type":"point","shape":"triangle-down","filled":true,"color":"black","size":28,"opacity":1,"yOffset":-2},"encoding":{"x":{"field":"t","type":"quantitative"},"y":{"field":"y2","type":"quantitative"}}}
  ]
 },
 {
  "width": 244, "height": 126,
  "data": {"name":"ts"},
  "transform": [{"filter":"datum.p==='C'"}],
  "layer": [
   {"data":{"values":[{}]},"mark":{"type":"rule","color":"black","strokeWidth":1.2},"encoding":{"y":{"datum":100,"type":"quantitative","scale":{"domain":[16.7,142.4],"nice":false,"zero":false},"axis":{"values":[20,40,60,80,100,120,140],"labels":false,"title":"% EPSC","tickSize":5,"titleX":-38,"titleY":63,"titleAngle":270,"titleAlign":"center","titleBaseline":"alphabetic"}}}},
   {"mark":{"type":"errorbar","ticks":{"size":6},"color":"black","thickness":1.2},"encoding":{
     "x":{"field":"t","type":"quantitative","scale":{"domain":[0.26,35],"nice":false,"zero":false},"axis":{"values":[5,10,15,20,25,30,35],"labelOverlap":false,"title":"time (min)","tickSize":5,"labelPadding":1,"titleY":38,"titleBaseline":"alphabetic"}},
     "y":{"field":"m","type":"quantitative","scale":{"domain":[16.7,142.4],"nice":false,"zero":false},"axis":{"values":[20,40,60,80,100,120,140],"labels":false,"title":"% EPSC","tickSize":5,"titleX":-38,"titleY":63,"titleAngle":270,"titleAlign":"center","titleBaseline":"alphabetic"}},"yError":{"field":"e"}}},
   {"mark":{"type":"point","filled":true,"stroke":"black","strokeWidth":1,"size":55,"opacity":1},"encoding":{
     "x":{"field":"t","type":"quantitative","scale":{"domain":[0.26,35],"nice":false,"zero":false},"axis":{"values":[5,10,15,20,25,30,35],"labelOverlap":false,"title":"time (min)","tickSize":5,"labelPadding":1,"titleY":38,"titleBaseline":"alphabetic"}},
     "y":{"field":"m","type":"quantitative","scale":{"domain":[16.7,142.4],"nice":false,"zero":false},"axis":{"values":[20,40,60,80,100,120,140],"labels":false,"title":"% EPSC","tickSize":5,"titleX":-38,"titleY":63,"titleAngle":270,"titleAlign":"center","titleBaseline":"alphabetic"}},
     "fill":{"condition":{"test":"datum.g === 'LTD'","value":"black"},"value":"white"}}},
   {"data":{"name":"yticks"},"transform":[{"filter":"datum.p==='C'"}],"mark":{"type":"text","fontSize":17,"align":"right","baseline":"middle","dx":-7.5},"encoding":{"x":{"datum":0.26,"type":"quantitative"},"y":{"field":"v","type":"quantitative"},"text":{"field":"v","type":"quantitative"}}},
   {"data":{"name":"leg"},"transform":[{"filter":"datum.p==='C'"}],"mark":{"type":"point","filled":true,"stroke":"black","strokeWidth":1,"size":55,"opacity":1},"encoding":{"x":{"field":"t","type":"quantitative"},"y":{"field":"m","type":"quantitative"},"fill":{"condition":{"test":"datum.g === 'LTD'","value":"black"},"value":"white"}}},
   {"data":{"name":"leg"},"transform":[{"filter":"datum.p==='C'"}],"mark":{"type":"text","fontSize":16.5,"align":"left","baseline":"middle","dx":6},"encoding":{"x":{"field":"t","type":"quantitative"},"y":{"field":"m","type":"quantitative"},"text":{"field":"label"}}},
   {"data":{"name":"arrows"},"transform":[{"filter":"datum.p==='C'"}],"mark":{"type":"rule","color":"black","strokeWidth":1.2},"encoding":{"x":{"field":"t","type":"quantitative"},"y":{"field":"y1","type":"quantitative"},"y2":{"field":"y2"}}},
   {"data":{"name":"arrows"},"transform":[{"filter":"datum.p==='C'"}],"mark":{"type":"point","shape":"triangle-down","filled":true,"color":"black","size":28,"opacity":1,"yOffset":-2},"encoding":{"x":{"field":"t","type":"quantitative"},"y":{"field":"y2","type":"quantitative"}}}
  ]
 },
 {
  "width": 248, "height": 251,
  "encoding": {
   "x": {"field":"x","type":"quantitative","scale":{"domain":[0,344.4],"nice":false,"zero":false},"axis":null},
   "y": {"field":"y","type":"quantitative","scale":{"domain":[-1250,1257],"nice":false,"zero":false},"axis":null}
  },
  "layer": [
   {"data":{"name":"traces"},"transform":[{"filter":"datum.p==='B' && datum.cond==='baseline'"}],"mark":{"type":"line","color":"black","strokeWidth":1.4},"encoding":{"detail":{"field":"id","type":"nominal"},"order":{"field":"k","type":"quantitative"}}},
   {"data":{"name":"traces"},"transform":[{"filter":"datum.p==='B' && datum.cond==='late'"}],"mark":{"type":"line","color":"black","strokeWidth":1.3,"strokeDash":[1.5,1.5]},"encoding":{"detail":{"field":"id","type":"nominal"},"order":{"field":"k","type":"quantitative"}}},
   {"data":{"name":"bars"},"transform":[{"filter":"datum.p==='B'"}],"mark":{"type":"rule","color":"black","strokeWidth":1.2},"encoding":{"x2":{"field":"x2"},"y2":{"field":"y2"}}},
   {"data":{"name":"legline"},"transform":[{"filter":"datum.p==='B'"}],"mark":{"type":"rule","color":"black"},"encoding":{"x2":{"field":"x2"},"strokeDash":{"field":"cond","type":"nominal","scale":{"domain":["baseline","late"],"range":[[1,0],[2,3]]},"legend":null},"strokeWidth":{"field":"cond","type":"nominal","scale":{"domain":["baseline","late"],"range":[3,2]},"legend":null}}},
   {"data":{"name":"labels"},"transform":[{"filter":"datum.p==='B' && datum.kind==='head'"}],"mark":{"type":"text","fontSize":17.5,"align":"center","baseline":"middle"},"encoding":{"text":{"field":"label"}}},
   {"data":{"name":"labels"},"transform":[{"filter":"datum.p==='B' && datum.kind==='bar'"}],"mark":{"type":"text","fontSize":17.5,"align":"left","baseline":"middle"},"encoding":{"text":{"field":"label"}}},
   {"data":{"name":"labels"},"transform":[{"filter":"datum.p==='B' && datum.kind==='letter'"}],"mark":{"type":"text","fontSize":22,"align":"left","baseline":"middle"},"encoding":{"text":{"field":"label"}}}
  ]
 },
 {
  "width": 245, "height": 250,
  "encoding": {
   "x": {"field":"x","type":"quantitative","scale":{"domain":[0,375.2],"nice":false,"zero":false},"axis":null},
   "y": {"field":"y","type":"quantitative","scale":{"domain":[-1310,1293],"nice":false,"zero":false},"axis":null}
  },
  "layer": [
   {"data":{"name":"traces"},"transform":[{"filter":"datum.p==='D'"}],"mark":{"type":"line","color":"black","strokeWidth":1.4},"encoding":{"detail":{"field":"id","type":"nominal"},"order":{"field":"k","type":"quantitative"}}},
   {"data":{"name":"bars"},"transform":[{"filter":"datum.p==='D'"}],"mark":{"type":"rule","color":"black","strokeWidth":1.2},"encoding":{"x2":{"field":"x2"},"y2":{"field":"y2"}}},
   {"data":{"name":"labels"},"transform":[{"filter":"datum.p==='D' && datum.kind==='head'"}],"mark":{"type":"text","fontSize":17.5,"align":"center","baseline":"middle"},"encoding":{"text":{"field":"label"}}},
   {"data":{"name":"labels"},"transform":[{"filter":"datum.p==='D' && datum.kind==='bar'"}],"mark":{"type":"text","fontSize":17.5,"align":"left","baseline":"middle"},"encoding":{"text":{"field":"label"}}},
   {"data":{"name":"labels"},"transform":[{"filter":"datum.p==='D' && datum.kind==='letter'"}],"mark":{"type":"text","fontSize":22,"align":"left","baseline":"middle"},"encoding":{"text":{"field":"label"}}}
  ]
 },
 {
  "width": 241, "height": 120,
  "data": {"name":"ts"},
  "transform": [{"filter":"datum.p==='B'"}],
  "layer": [
   {"data":{"values":[{}]},"mark":{"type":"rule","color":"black","strokeWidth":1.2},"encoding":{"y":{"datum":100,"type":"quantitative","scale":{"domain":[-9.6,143],"nice":false,"zero":false},"axis":{"values":[0,20,40,60,80,100,120,140],"labels":false,"title":"% EPSC","tickSize":5,"titleX":-37,"titleY":60,"titleAngle":270,"titleAlign":"center","titleBaseline":"alphabetic"}}}},
   {"mark":{"type":"errorbar","ticks":{"size":6},"color":"black","thickness":1.1},"encoding":{
     "x":{"field":"t","type":"quantitative","scale":{"domain":[0.09,35],"nice":false,"zero":false},"axis":{"values":[5,10,15,20,25,30,35],"labelOverlap":false,"title":"time (min)","ticks":false,"tickSize":0,"domainWidth":3.5,"labelPadding":10,"titleY":44,"titleBaseline":"alphabetic"}},
     "y":{"field":"m","type":"quantitative","scale":{"domain":[-9.6,143],"nice":false,"zero":false},"axis":{"values":[0,20,40,60,80,100,120,140],"labels":false,"title":"% EPSC","tickSize":5,"titleX":-37,"titleY":60,"titleAngle":270,"titleAlign":"center","titleBaseline":"alphabetic"}},"yError":{"field":"e"}}},
   {"mark":{"type":"point","filled":true,"stroke":"black","strokeWidth":1,"size":42,"opacity":1},"encoding":{
     "x":{"field":"t","type":"quantitative","scale":{"domain":[0.09,35],"nice":false,"zero":false},"axis":{"values":[5,10,15,20,25,30,35],"labelOverlap":false,"title":"time (min)","ticks":false,"tickSize":0,"domainWidth":3.5,"labelPadding":10,"titleY":44,"titleBaseline":"alphabetic"}},
     "y":{"field":"m","type":"quantitative","scale":{"domain":[-9.6,143],"nice":false,"zero":false},"axis":{"values":[0,20,40,60,80,100,120,140],"labels":false,"title":"% EPSC","tickSize":5,"titleX":-37,"titleY":60,"titleAngle":270,"titleAlign":"center","titleBaseline":"alphabetic"}},
     "fill":{"condition":{"test":"datum.g === 'Chel'","value":"black"},"value":"white"},
     "shape":{"condition":{"test":"datum.g === 'H7'","value":"square"},"value":"circle"}}},
   {"data":{"name":"yticks"},"transform":[{"filter":"datum.p==='B'"}],"mark":{"type":"text","fontSize":17,"align":"right","baseline":"middle","dx":-7.5},"encoding":{"x":{"datum":0.09,"type":"quantitative"},"y":{"field":"v","type":"quantitative"},"text":{"field":"v","type":"quantitative"}}},
   {"data":{"name":"leg"},"transform":[{"filter":"datum.p==='B'"}],"mark":{"type":"point","filled":true,"stroke":"black","strokeWidth":1,"size":42,"opacity":1},"encoding":{"x":{"field":"t","type":"quantitative"},"y":{"field":"m","type":"quantitative"},"fill":{"condition":{"test":"datum.g === 'Chel'","value":"black"},"value":"white"},"shape":{"condition":{"test":"datum.g === 'H7'","value":"square"},"value":"circle"}}},
   {"data":{"name":"leg"},"transform":[{"filter":"datum.p==='B'"}],"mark":{"type":"text","fontSize":17,"align":"left","baseline":"middle","dx":5},"encoding":{"x":{"field":"t","type":"quantitative"},"y":{"field":"m","type":"quantitative"},"text":{"field":"label"}}},
   {"data":{"name":"arrows"},"transform":[{"filter":"datum.p==='B'"}],"mark":{"type":"rule","color":"black","strokeWidth":1.2},"encoding":{"x":{"field":"t","type":"quantitative"},"y":{"field":"y1","type":"quantitative"},"y2":{"field":"y2"}}},
   {"data":{"name":"arrows"},"transform":[{"filter":"datum.p==='B'"}],"mark":{"type":"point","shape":"triangle-down","filled":true,"color":"black","size":28,"opacity":1,"yOffset":-2},"encoding":{"x":{"field":"t","type":"quantitative"},"y":{"field":"y2","type":"quantitative"}}}
  ]
 },
 {
  "width": 245, "height": 125,
  "data": {"name":"ts"},
  "transform": [{"filter":"datum.p==='D'"}],
  "layer": [
   {"data":{"values":[{}]},"mark":{"type":"rule","color":"black","strokeWidth":1.2},"encoding":{"y":{"datum":100,"type":"quantitative","scale":{"domain":[37.5,143.4],"nice":false,"zero":false},"axis":{"values":[40,60,80,100,120,140],"labels":false,"title":"% EPSC","tickSize":5,"titleX":-38,"titleY":62,"titleAngle":270,"titleAlign":"center","titleBaseline":"alphabetic"}}}},
   {"mark":{"type":"line","color":"black","strokeWidth":1.4},"encoding":{
     "x":{"field":"t","type":"quantitative","scale":{"domain":[0.66,20],"nice":false,"zero":false},"axis":{"values":[5,10,15,20],"labelOverlap":false,"title":"time (min)","tickSize":5,"labelPadding":3.5,"titleY":40,"titleBaseline":"alphabetic"}},
     "y":{"field":"m","type":"quantitative","scale":{"domain":[37.5,143.4],"nice":false,"zero":false},"axis":{"values":[40,60,80,100,120,140],"labels":false,"title":"% EPSC","tickSize":5,"titleX":-38,"titleY":62,"titleAngle":270,"titleAlign":"center","titleBaseline":"alphabetic"}}}},
   {"mark":{"type":"errorbar","ticks":{"size":6},"color":"black","thickness":1.2},"encoding":{
     "x":{"field":"t","type":"quantitative","scale":{"domain":[0.66,20],"nice":false,"zero":false},"axis":{"values":[5,10,15,20],"labelOverlap":false,"title":"time (min)","tickSize":5,"labelPadding":3.5,"titleY":40,"titleBaseline":"alphabetic"}},
     "y":{"field":"m","type":"quantitative","scale":{"domain":[37.5,143.4],"nice":false,"zero":false},"axis":{"values":[40,60,80,100,120,140],"labels":false,"title":"% EPSC","tickSize":5,"titleX":-38,"titleY":62,"titleAngle":270,"titleAlign":"center","titleBaseline":"alphabetic"}},"yError":{"field":"e"}}},
   {"mark":{"type":"point","filled":true,"color":"black","size":55,"opacity":1},"encoding":{
     "x":{"field":"t","type":"quantitative","scale":{"domain":[0.66,20],"nice":false,"zero":false},"axis":{"values":[5,10,15,20],"labelOverlap":false,"title":"time (min)","tickSize":5,"labelPadding":3.5,"titleY":40,"titleBaseline":"alphabetic"}},
     "y":{"field":"m","type":"quantitative","scale":{"domain":[37.5,143.4],"nice":false,"zero":false},"axis":{"values":[40,60,80,100,120,140],"labels":false,"title":"% EPSC","tickSize":5,"titleX":-38,"titleY":62,"titleAngle":270,"titleAlign":"center","titleBaseline":"alphabetic"}}}},
   {"data":{"name":"yticks"},"transform":[{"filter":"datum.p==='D'"}],"mark":{"type":"text","fontSize":17,"align":"right","baseline":"middle","dx":-7.5},"encoding":{"x":{"datum":0.66,"type":"quantitative"},"y":{"field":"v","type":"quantitative"},"text":{"field":"v","type":"quantitative"}}},
   {"data":{"name":"notes"},"transform":[{"filter":"datum.p==='D'"}],"mark":{"type":"text","fontSize":17.5,"align":"center","baseline":"middle"},"encoding":{"x":{"field":"t","type":"quantitative"},"y":{"field":"m","type":"quantitative"},"text":{"field":"label"}}}
  ]
 }
]
}
